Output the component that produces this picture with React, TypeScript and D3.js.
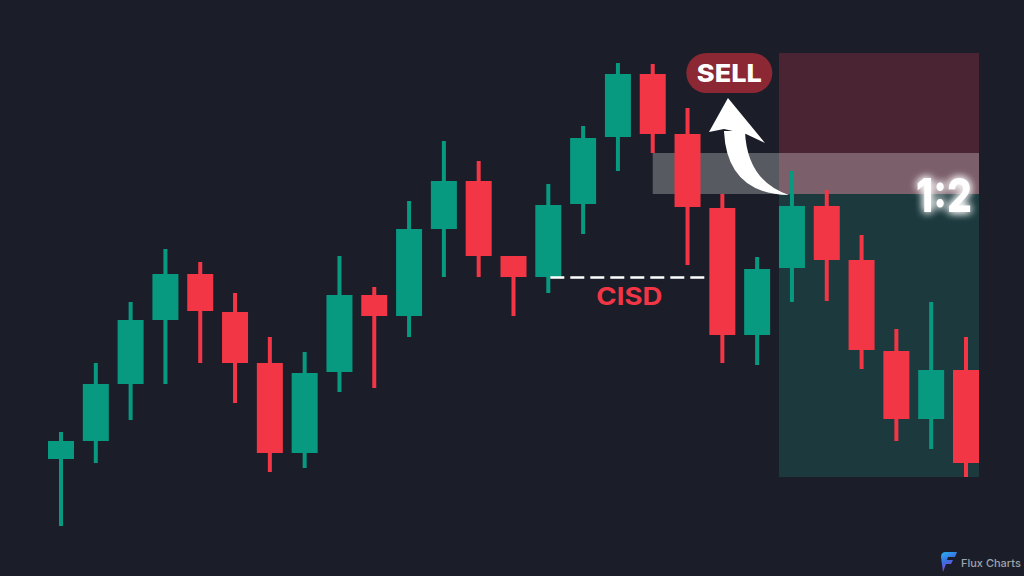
import React from "react";
import * as d3 from "d3";

// ---- data (prices) ----
const opens = [108.2, 111.8, 123.2, 136.0, 145.2, 137.6, 127.4, 109.4, 125.6, 141.0, 136.8, 154.2, 163.8, 148.8, 144.6, 159.2, 172.6, 185.2, 173.2, 158.4, 133.0, 146.4, 158.8, 148.0, 129.8, 116.2, 126.0];
const highs = [113.6, 127.4, 139.6, 150.2, 147.6, 141.4, 132.6, 129.6, 148.8, 142.6, 159.8, 171.8, 167.8, 148.8, 163.2, 174.8, 187.4, 187.2, 178.4, 161.2, 148.6, 165.8, 162.0, 153.0, 134.2, 139.6, 132.6];
const lows = [94.8, 107.4, 116.0, 123.2, 127.4, 119.4, 105.6, 106.4, 121.6, 122.4, 132.6, 144.6, 144.6, 136.8, 141.4, 153.2, 165.8, 169.4, 147.0, 127.4, 127.0, 139.6, 139.8, 126.2, 111.8, 110.2, 104.6];
const closes = [111.8, 123.2, 136.0, 145.2, 137.8, 127.4, 109.4, 125.4, 141.0, 136.8, 154.2, 163.8, 148.8, 144.6, 159.0, 172.4, 185.2, 173.2, 158.6, 133.0, 146.2, 158.8, 148.0, 130.0, 116.2, 126.0, 107.4];

// trade levels
const stopLoss = 189.4;
const entry = 161.2;
const takeProfit = 104.6;
const gapTop = 169.4;
const cisdLevel = 144.5;
const entryIndex = 21;
const lastIndex = 26;
const gapStartIndex = 17;
const cisdStartIndex = 14;
const cisdEndIndex = 19;
const ratioLabel = "1:2";
const sellLabel = "SELL";
const cisdLabel = "CISD";
const brand = "Flux Charts";

const W = 1024;
const H = 576;
const GREEN = "#089981";
const RED = "#F23645";
const BG = "#1b1e29";

export default function App() {
  const x = d3.scaleLinear().domain([0, 26]).range([61, 966]);
  const y = d3.scaleLinear().domain([100, 200]).range([500, 0]);
  const bodyW = 26;
  const wickW = 4;
  const half = bodyW / 2;

  const candles = opens.map((o, i) => ({ i, o, h: highs[i], l: lows[i], c: closes[i] }));

  const zoneX0 = x(entryIndex) - half;
  const zoneX1 = x(lastIndex) + half;

  // arrow geometry relative to its tip at entry
  const ax = x(entryIndex) - 3;
  const ay = y(entry) + 1;
  const shaft = `M ${ax - 44},${ay - 64} Q ${ax - 42},${ay - 14} ${ax},${ay} Q ${ax - 62},${ay - 1} ${ax - 65},${ay - 64} Z`;
  const head = `M ${ax - 61},${ay - 97} L ${ax - 24},${ay - 52} L ${ax - 43},${ay - 61} L ${ax - 65},${ay - 66} L ${ax - 80},${ay - 63} Z`;

  const sellCx = x(19) + 7;
  const sellCy = y(stopLoss) + 20;

  return (
    <svg
      width={W}
      height={H}
      viewBox={`0 0 ${W} ${H}`}
      style={{ position: "absolute", left: 0, top: 0, display: "block" }}
    >
      <defs>
        <filter id="glow" x="-50%" y="-50%" width="200%" height="200%">
          <feGaussianBlur stdDeviation="4" result="b" />
          <feMerge>
            <feMergeNode in="b" />
            <feMergeNode in="b" />
            <feMergeNode in="SourceGraphic" />
          </feMerge>
        </filter>
        <linearGradient id="logoGrad" x1="0" y1="0" x2="0.4" y2="1">
          <stop offset="0" stopColor="#27b6f2" />
          <stop offset="0.5" stopColor="#3a6fe0" />
          <stop offset="1" stopColor="#9b3bd0" />
        </linearGradient>
      </defs>
      <rect width={W} height={H} fill={BG} />

      {/* zones */}
      <rect x={zoneX0} y={y(stopLoss)} width={zoneX1 - zoneX0} height={y(entry) - y(stopLoss)} fill="#4a2433" />
      <rect x={zoneX0} y={y(entry)} width={zoneX1 - zoneX0} height={y(takeProfit) - y(entry)} fill="#1c3a3e" />
      <rect
        x={x(gapStartIndex)}
        y={y(gapTop)}
        width={zoneX1 - x(gapStartIndex)}
        height={y(entry) - y(gapTop)}
        fill="#ffffff"
        fillOpacity={0.27}
      />

      {/* candles */}
      {candles.map((d) => {
        const col = d.c >= d.o ? GREEN : RED;
        const top = y(Math.max(d.o, d.c));
        const bot = y(Math.min(d.o, d.c));
        return (
          <g key={d.i}>
            <rect x={x(d.i) - wickW / 2} y={y(d.h)} width={wickW} height={y(d.l) - y(d.h)} fill={col} />
            <rect x={x(d.i) - half} y={top} width={bodyW} height={Math.max(1, bot - top)} fill={col} />
          </g>
        );
      })}

      {/* CISD line */}
      <line
        x1={x(cisdStartIndex) + 2}
        x2={x(cisdEndIndex) - half}
        y1={y(cisdLevel)}
        y2={y(cisdLevel)}
        stroke="#ffffff"
        strokeWidth={2.5}
        strokeDasharray="14 6"
      />
      <text
        x={(x(cisdStartIndex) + x(cisdEndIndex)) / 2 - 6}
        y={y(cisdLevel) + 27}
        fill={RED}
        fontFamily="Inter, 'Open Sans', sans-serif"
        fontWeight={700}
        fontSize={24}
        textAnchor="middle"
        textLength={66}
        lengthAdjust="spacingAndGlyphs"
      >
        {cisdLabel}
      </text>

      {/* arrow */}
      <path d={shaft} fill="#ffffff" />
      <path d={head} fill="#ffffff" />

      {/* SELL badge */}
      <rect x={sellCx - 43} y={sellCy - 20} width={86} height={40} rx={20} fill="#8c2833" />
      <text
        x={sellCx}
        y={sellCy + 9}
        fill="#ffffff"
        fontFamily="Inter, 'Open Sans', sans-serif"
        fontWeight={800}
        fontSize={25}
        textAnchor="middle"
        textLength={65}
        lengthAdjust="spacingAndGlyphs"
      >
        {sellLabel}
      </text>

      {/* ratio */}
      <text
        x={zoneX1 - 7}
        y={y(entry) + 18}
        fill="#ffffff"
        fontFamily="Inter, 'Open Sans', sans-serif"
        fontWeight={800}
        fontSize={47}
        textAnchor="end"
        textLength={56}
        lengthAdjust="spacingAndGlyphs"
        filter="url(#glow)"
      >
        {ratioLabel}
      </text>

      {/* brand */}
      <path
        d="M941,557 Q941,552 946,552 L957,552 L955,557 L948,557 L947,560 L953,560 L951,564 L946,564 L943,572 Z"
        fill="url(#logoGrad)"
      />
      <text
        x={961}
        y={567}
        fill="#9ea3ae"
        fontFamily="Inter, 'Open Sans', sans-serif"
        fontSize={11}
        fontWeight={500}
      >
        {brand}
      </text>
    </svg>
  );
}
